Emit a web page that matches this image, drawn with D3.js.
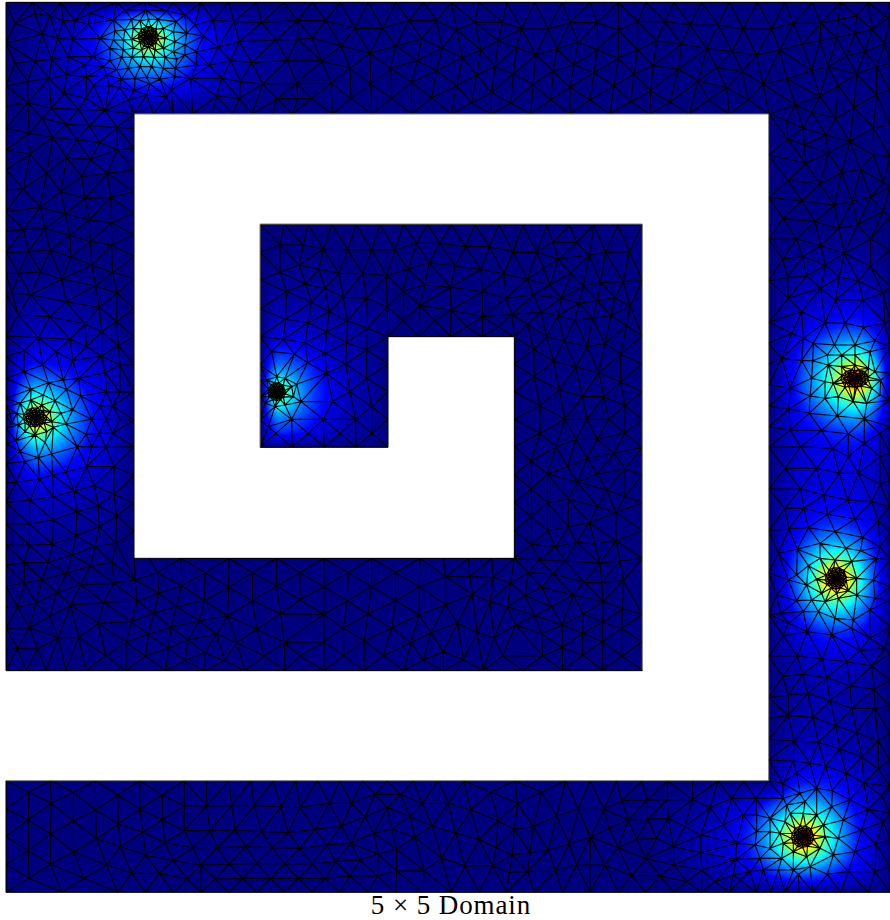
<!DOCTYPE html>
<html><head><meta charset="utf-8">
<style>html,body{margin:0;padding:0;background:#fff}svg{display:block}</style>
<script src="https://cdn.jsdelivr.net/npm/d3@7"></script>
</head><body>
<svg id="chart" width="890" height="920"></svg>
<script>
// Title of the figure
const titleText = "5 × 5 Domain";
// Mesh coordinates were digitised on a 2670 x 2760 sheet
const sheetSize = [2670, 2760];
// Domain outline (spiral) in sheet units
const domainOutline = [[18,7],[2670,7],[2670,2677],[18,2677],[18,2342],[2306,2342],[2306,342],[402,342],[402,1675],[1543,1675],[1543,1010],[1164,1010],[1164,1342],[780,1342],[780,672],[1927,672],[1927,2012],[18,2012]];
// Boundary stretches that read as grey in the picture (outline segment index)
const greyWalls = [4,5,6,13,14,15];
// Sources: x, y, amplitude, stretchX, stretchY
const sources = [[445,110,0.80,1,1],[105,1252,0.86,1.05,1],[830,1175,0.62,1,1],[2565,1135,1,1.1,1],[2508,1735,1,1,1],[2408,2510,1,1,1]];
// Refinement radius around each source: rx, ry
const refineRadii = [[32,32],[38,30],[28,28],[44,28],[34,34],[36,34]];
// Radial profile (distance on the sheet, value)
const profileDist = [0,15,30,45,66,90,120,165,225,300,420,510];
const profileVal = [1,.82,.68,.58,.46,.36,.27,.16,.09,.05,.015,0];
// Colour stops
const jetStops = [0,.125,.375,.625,.875,1];
const jetColors = ['#00007f','#0000ff','#00ffff','#ffff00','#ff0000','#7f0000'];
// Fine stencil of nodes around a source (percent of refine radius)
const refineStencil = [[0,0],[9,6],[-8,7],[3,-10],[-10,-6],[18,5],[-15,14],[6,-20],[-20,-14],[10,18],[-4,20],[-24,2],[24,-10],[30,-10],[28,18],[5,30],[-22,30],[-34,3],[-16,-32],[15,-36],[-38,-20],[36,-22],[40,10],[-40,18],[42,-28],[50,2],[42,30],[20,48],[-8,52],[-38,42],[-52,16],[-52,-16],[-34,-44],[0,-55],[32,-52],[66,-22],[70,12],[58,42],[34,66],[0,72],[-34,64],[-62,40],[-74,4],[-66,-32],[-40,-62],[-4,-76],[36,-72],[64,-50],[88,-12],[90,22],[72,58],[40,84],[0,94],[-42,86],[-78,54],[-94,14],[-88,-28],[-62,-72],[-20,-94],[24,-94],[70,-70]];

// Mesh nodes, sheet by sheet
const nodesTopLeft = [[18,7],[98,7],[182,7],[266,7],[350,7],[434,7],[518,7],[602,7],[686,7],[770,7],[853,7],
[18,130],[18,258],[18,320],[18,385],[18,450],[18,510],[18,570],[18,635],[18,695],[18,757],[18,820],[18,880],
[45,70],[105,41],[150,48],[190,62],[127,102],[173,115],[225,62],[270,40],[218,118],[265,72],[45,190],[105,183],[155,178],[205,170],[83,245],[147,235],[200,225],
[375,30],[438,30],[500,33],[555,45],[340,60],[395,58],[420,62],[445,58],[475,58],[528,65],[585,75],[640,60],
[345,93],[375,90],[400,85],[490,85],[520,95],[560,100],[610,108],[300,115],[340,120],[370,120],[395,118],[495,115],[525,125],[555,135],
[330,145],[370,150],[400,145],[425,150],[465,150],[490,145],[520,155],[555,165],[590,155],
[280,170],[330,182],[365,172],[395,172],[430,170],[462,172],[495,172],[530,178],[590,195],
[255,195],[310,200],[350,210],[385,205],[420,200],[455,200],[490,205],[525,205],
[260,230],[320,225],[365,238],[405,235],[440,232],[480,238],[525,230],[572,235],
[702,65],[785,68],[893,62],[828,120],[718,125],[655,142],[893,118],[755,188],[862,182],[692,182],[628,196],[722,245],[788,252],[665,235],[890,250],
[192,280],[281,256],[328,258],[236,328],[315,332],[258,295],[385,300],[440,285],[500,290],[403,272],[358,262],[450,252],[514,270],[650,288],[718,296],[832,296],[893,296],
[154,325],[84,308],[402,342],[460,342],[520,342],[578,342],[638,342],[698,342],[757,342],[817,342],[877,342],
[127,355],[198,373],[268,377],[351,382],[88,400],[158,412],[230,420],[300,428],[90,462],[200,472],[272,478],[352,450],[140,520],[245,530],[322,520],[70,566],[183,575],[255,596],[332,592],
[402,385],[402,445],[402,510],[402,575],[402,640],[402,705],[402,770],[402,835],
[121,622],[196,642],[268,660],[335,668],[71,689],[135,686],[210,706],[271,725],[335,735],[85,755],[150,750],[213,771],[275,795],[338,818],[56,820],[122,816],[186,838],[287,858],[352,880],[92,884],[37,880]];

const nodesLeftMid = [[18,108],[18,170],[18,235],[18,295],[18,320],[18,350],[18,385],[18,430],[18,490],[18,548],[18,608],[18,672],[18,735],
[402,25],[402,110],[402,195],[402,275],[402,360],[402,440],[402,525],[402,610],[402,695],
[55,45],[150,50],[198,5],[298,22],[350,65],[255,72],[305,95],[115,113],[210,118],[260,140],[355,137],[73,152],[168,155],[305,168],[128,195],[218,182],[360,195],[72,215],[315,218],[236,235],[190,240],[145,248],[93,268],[130,285],[165,302],[200,268],[242,288],[320,275],[360,277],[300,318],
[60,310],[92,300],[125,315],[150,335],[155,365],[140,395],[105,405],[75,395],[55,375],[50,340],
[30,340],[35,370],[48,422],[60,455],[135,427],[160,382],[183,340],[198,372],[218,330],[275,358],[318,358],[360,358],[338,318],[297,400],[338,400],[258,403],[275,440],[318,442],[232,440],[155,462],[115,473],[75,485],[198,517],[260,500],[158,525],[118,537],[48,547],[342,500],[283,557],[223,573],[160,590],[90,600],[342,583],[295,617],[230,635],[350,647],[160,660],[88,672],[298,680],[228,707],[158,733],[88,735],[285,740],[348,730]];

const nodesTopMid = [[37,7],[120,7],[204,7],[288,7],[370,7],[454,7],[536,7],[620,7],[704,7],[787,7],[870,7],
[78,62],[165,85],[248,85],[327,62],[410,62],[470,90],[525,67],[608,67],[665,87],[745,87],[810,68],
[37,115],[123,138],[210,160],[288,138],[365,117],[427,145],[543,150],[595,123],[650,143],[708,165],[770,147],[835,127],
[65,183],[150,205],[272,205],[352,182],[410,212],[488,173],[530,225],[585,200],[640,222],[700,253],[760,213],[822,195],
[93,250],[212,253],[335,247],[470,258],[575,278],[810,262],
[35,296],[153,295],[275,295],[395,293],[515,308],[632,310],[752,300],[870,300],
[97,342],[215,342],[335,342],[454,342],[573,342],[692,342],[811,342],
[668,675],[740,675],[810,675],[640,757],[710,757],[758,727],[830,727],[775,778],[868,765],[682,838],[730,805],[812,820],[750,855],[850,858],[700,885],[785,895]];

const nodesTopRight = [[85,7],[168,7],[252,7],[335,7],[418,7],[502,7],[585,7],[668,7],[752,7],[835,7],[900,7],
[22,68],[85,90],[143,65],[225,65],[300,75],[385,75],[460,87],[545,87],[610,70],[692,70],[745,60],[800,48],[885,48],
[22,150],[85,175],[143,150],[200,123],[275,133],[350,145],[427,155],[500,165],[570,150],[637,133],[690,122],[740,113],[795,100],[847,90],[885,130],
[12,218],[72,258],[132,223],[190,197],[265,208],[325,243],[380,203],[457,215],[410,263],[520,253],[590,237],[665,212],[715,200],[770,168],[825,155],[860,200],[800,222],[745,257],[690,290],[617,315],[182,272],[122,305],[240,307],[355,300],[475,300],[860,283],
[60,342],[180,342],[298,342],[418,342],[537,342],
[536,465],[536,592],[536,717],[536,842],
[590,362],[665,337],[737,355],[792,323],[850,383],[593,418],[640,385],[643,435],[708,405],[780,425],[715,458],[850,465],[648,490],[755,518],[812,508],[880,548],[595,542],[690,552],[635,603],[733,615],[787,603],[843,592],[880,633],[580,655],[675,665],[747,685],[803,675],[620,717],[692,737],[763,760],[842,717],[578,777],[638,770],[707,795],[842,800],[593,833],[650,828],[748,832],[805,842],[692,865],[880,880],[595,895],
[900,50],[900,130],[900,190],[900,270],[900,375],[900,470],[900,560],[900,650],[900,750],[900,860],
[12,675],[84,675],[157,675],[47,757],[118,755],[32,848],[100,845],[157,842],[75,893]];

const nodesInner = [[60,43],[132,43],[204,43],[276,43],[348,43],[420,43],[490,43],[562,43],[634,43],[705,43],[777,43],
[120,105],[190,105],[250,117],[323,120],[395,120],[465,120],[530,100],[600,100],[677,110],[748,110],[818,125],
[60,127],[60,210],[120,187],[178,165],[237,178],[297,190],[368,190],[440,197],[505,178],[567,158],[645,168],[723,178],[792,192],
[197,222],[255,235],[140,245],[310,262],[380,265],[490,243],[555,225],[632,232],[727,245],[798,265],
[60,297],[215,277],[137,328],[268,305],[322,333],[441,290],[540,287],[633,300],[728,320],[815,313],
[60,380],[205,338],[260,365],[383,355],[490,332],[585,332],[680,350],[775,350],
[444,380],[538,380],[632,380],[728,380],
[130,388],[195,398],[320,398],[380,420],[255,430],[95,425],[60,465],[163,432],[203,458],[317,462],[444,462],
[260,490],[380,505],[444,545],[170,523],[60,510],[330,545],[395,590],[444,628],[278,574],[183,575],[155,628],[250,628],[347,628],
[80,510],[110,500],[135,505],[155,530],[160,560],[135,585],[105,590],[75,580],[62,560],
[60,630],[85,650],[108,670],[205,670],[300,670],[395,670],[60,712],[157,712],[253,712],[348,712],[444,712]];

const nodesInnerRightArm = [[93,67],[207,40],[262,32],[360,48],[143,78],[195,90],[248,85],[303,77],[350,107],[52,103],
[397,137],[110,140],[163,153],[232,170],[285,160],[72,178],[332,193],[13,140],[131,214],[198,232],[267,248],[397,222],[13,222],[72,260],[332,277],[397,305],[148,300],[217,320],[282,320],[13,305],[90,347],[345,347],[13,388],[165,388],[231,388],[296,388],[397,388],[90,430],[345,430],[198,448],[262,448],[13,470],[139,470],[397,472],[313,490],[64,513],[231,505],[172,530],[13,555],[113,552],[262,552],[345,537],[397,555],[203,577],[64,597],[290,600],[13,638],[113,638],[175,627],[345,620],[397,638],[263,650],[318,668],[64,680],[13,722],[113,722],[175,710],[238,698],[397,722],[318,752],[64,763],[137,770],[200,757],[255,762],[13,805]];

const nodesLowerLeft = [[18,45],[73,38],[145,37],[217,15],[272,48],[337,38],[200,70],[127,90],[73,100],[170,128],[242,105],[342,100],[405,90],[108,160],[53,172],[212,165],[312,158],[412,153],[150,200],[88,233],[295,220],[395,215],
[18,108],[18,172],[18,235],[18,300],
[472,68],[543,25],[615,68],[687,25],[757,68],[830,25],[900,68],
[477,130],[545,108],[614,152],[686,112],[758,152],[830,108],[900,150],[462,190],[529,170],[598,213],[683,197],[770,238],[842,192],
[175,263],[236,262],[53,295],[113,297],[378,277],[445,253],[513,232],[565,270],[650,252],[710,278],[853,277],[505,295],[615,308],[318,318],[437,318],[555,332],[673,332],[793,318],[900,318],
[18,362],[78,362],[138,362],[198,362],[258,362],[378,362],[497,362],[616,362],[735,362],[855,362],
[18,692],[152,692],[286,692],[420,692],[553,692],[620,692],[687,692],[753,692],[820,692],[887,692],
[87,727],[220,727],[353,735],[487,735],[18,778],[153,760],[287,780],[420,778],[553,768],[620,768],[695,767],[762,767],[843,771],[900,772],
[85,810],[220,813],[355,822],[487,810],[553,842],[630,842],[705,840],[785,845],[865,848],
[18,860],[152,852],[290,867],[428,847],[495,878],[578,893],[652,893],[737,890],[817,893],[900,895],
[85,902],[220,905],[362,890],[437,915],[520,932],[603,945],[687,943],[770,940],[853,942],
[18,943],[152,943],[320,945],[395,970],[478,970],[562,987],[645,987],[728,985],[812,985],[895,985],
[87,985],[252,985],
[18,1027],[185,1027],[352,1027],[437,1027],[520,1027],[603,1027],[687,1027],[770,1027],[853,1027]];

const nodesLowerMid = [[72,25],[215,25],[360,25],[430,25],[505,25],[575,25],
[145,68],[287,68],[437,80],[510,80],[580,82],[72,110],[215,110],[358,110],[517,133],[142,152],[287,152],[437,165],[570,155],[622,170],[72,193],[204,192],[357,195],[473,220],[532,248],[130,235],[275,235],[393,248],[582,263],[647,225],[72,275],[193,272],[333,278],[430,305],[608,318],[132,317],[250,317],[370,330],[490,330],
[72,362],[192,362],[312,362],[430,362],[550,362],[668,362],[788,362],
[685,68],[760,72],[853,97],[632,98],[718,30],[795,33],[675,137],[725,112],[820,135],[755,170],[705,197],[850,192],[787,225],[848,250],[725,252],[787,293],[848,315],[728,318],
[52,692],[120,692],[187,692],[262,692],[340,692],[415,692],[492,692],[645,692],[797,692],[870,692],
[88,760],[155,760],[225,733],[302,733],[367,760],[445,760],[572,727],[725,727],[262,772],[330,800],[513,780],[653,760],[835,778],
[45,838],[125,828],[195,800],[397,828],[595,813],[770,798],[700,830],
[80,885],[152,880],[222,850],[275,838],[345,862],[467,850],[537,868],[643,838],[872,862],
[37,942],[107,935],[180,930],[235,912],[290,898],[425,925],[588,893],[637,915],[690,908],[745,900],[808,882],
[75,985],[150,978],[232,978],[290,963],[372,962],[495,948],[578,948],[628,968],[683,965],[767,963],[830,945],
[37,1027],[120,1027],[205,1027],[287,1027],[370,1027],[453,1027],[537,1027],[620,1027],[703,1027],[787,1027],[870,1027]];

const nodesRightMid = [[30,790],[90,783],[157,775],[35,848],[100,842],
[536,67],[536,130],[536,192],[536,255],[536,318],[536,380],[536,442],[536,567],[536,692],[536,818],
[635,35],[737,0],[820,0],[605,100],[705,68],[765,70],[820,82],[885,70],[640,115],[670,130],[733,135],[795,135],[855,122],[575,175],[635,182],[668,182],[712,165],[755,165],[795,165],[840,155],
[715,195],[755,200],[795,195],[835,205],[855,215],[872,240],[845,265],[800,262],[765,262],[730,250],[705,245],[665,235],
[600,265],[660,288],[705,295],[745,290],[790,305],[830,310],[870,285],[597,327],[658,340],[742,348],[823,357],[600,390],[695,392],[775,402],[870,400],[632,440],[728,445],[823,430],[870,470],[775,470],[585,505],[680,505],[748,520],[805,520],[870,552],[632,567],[702,585],[773,600],[845,605],[585,625],[642,625],[712,643],[795,657],[865,660],[597,687],[655,683],[735,695],[818,712],
[622,748],[690,730],[768,745],[870,740],[812,752],[565,760],[655,797],[690,775],[735,780],[785,785],[800,835],[775,872],[740,880],[695,880],[680,838],[620,825],[595,840],[560,885],[650,855],[860,775],[850,840],
[900,60],[900,140],[900,220],[900,300],[900,380],[900,460],[900,540],[900,620],[900,700],[900,780],[900,860]];

const nodesLowerRight = [[40,65],[98,87],[157,103],[38,127],[95,145],[157,187],[38,185],[95,228],[157,270],[38,270],
[620,62],[665,60],[705,65],[745,55],[800,45],[855,55],[572,100],[640,95],[685,95],[735,115],[790,120],[840,90],
[536,103],[536,228],[536,353],[536,415],[536,478],[536,540],[536,603],
[595,130],[652,155],[725,165],[785,145],[840,175],[885,205],[580,167],[622,228],[697,237],[770,245],[810,212],[845,258],[578,290],[638,283],[710,293],[780,318],[853,328],[595,345],[653,340],[720,362],[785,385],[855,385],[595,407],[670,412],[738,437],[800,458],[865,483],[612,483],[685,487],[750,507],[815,530],[865,567],[610,543],[660,550],[707,558],[768,580],[620,578],[680,625],[727,632],[822,608],[875,648],[578,610],[630,640],[580,655],
[600,700],[640,700],[680,705],[700,735],[705,770],[690,805],[650,830],[610,815],[580,790],[570,760],[585,725],
[498,655],[425,655],[460,705],[500,705],[540,715],[590,675],[645,665],[725,680],[780,660],[760,720],[745,775],[815,750],[835,688],[880,725],[858,793],[795,815],[730,825],[660,860],[610,870],[565,870],[520,870],[480,875],[500,755],[540,755],[540,805],[495,795],[400,735],[440,790],[438,838],[510,835],[575,835],[625,883],[712,883],[775,875],[855,875],[450,900],[430,885],
[418,937],[500,937],[543,937],[585,937],[627,937],[668,937],[752,937],[835,937],[900,937],
[80,603],[155,603],[232,603],[308,603],[385,603],[461,603],
[42,687],[95,662],[172,660],[232,660],[308,658],[360,683],[115,720],[173,718],[235,715],[285,740],[58,745],[140,778],[200,775],[0,772],[85,803],[250,800],[333,765],[333,818],[168,836],[252,855],[335,870],[45,855],[125,887],[210,887],[290,905],[375,905],[0,855],
[85,937],[168,937],[250,937],[335,937],
[900,60],[900,140],[900,220],[900,300],[900,380],[900,460],[900,540],[900,620],[900,700],[900,780],[900,860]];

// node list, sheet origin of that list
const nodeSheets = [[nodesTopLeft,0,0],[nodesLeftMid,0,900],[nodesTopMid,900,0],[nodesTopRight,1770,0],[nodesInner,720,630],[nodesInnerRightArm,1530,870],[nodesLowerLeft,0,1650],[nodesLowerMid,900,1650],[nodesRightMid,1770,900],[nodesLowerRight,1770,1740]];

const x = d3.scaleLinear().domain([0, sheetSize[0]]).range([0, 890]);
const y = d3.scaleLinear().domain([0, sheetSize[1]]).range([0, 920]);
const jet = d3.scaleLinear().domain(jetStops).range(jetColors).clamp(true);
const profile = d3.scaleLinear().domain(profileDist).range(profileVal).clamp(true);

const nodes = [];
nodeSheets.forEach(([list, ox, oy]) => list.forEach(([a, b]) => nodes.push([a + ox, b + oy])));
sources.forEach((s, i) => refineStencil.forEach(([a, b]) => nodes.push([s[0] + a / 100 * refineRadii[i][0], s[1] + b / 100 * refineRadii[i][1]])));

const svg = d3.select("#chart");
const outlinePath = "M" + domainOutline.map(p => [x(p[0]), y(p[1])].join(",")).join("L") + "Z";
svg.append("defs").append("clipPath").attr("id", "dom").append("path").attr("d", outlinePath);
const plot = svg.append("g").attr("clip-path", "url(#dom)");
plot.append("path").attr("d", outlinePath).attr("fill", jet(0));

// wall distance for the fall-off near the boundary
const segs = domainOutline.map((p, i) => [p, domainOutline[(i + 1) % domainOutline.length]]);
function wallDist(px, py) {
  let best = Infinity;
  for (const [a, b] of segs) {
    const qx = Math.max(Math.min(a[0], b[0]), Math.min(Math.max(a[0], b[0]), px));
    const qy = Math.max(Math.min(a[1], b[1]), Math.min(Math.max(a[1], b[1]), py));
    const d = Math.hypot(px - qx, py - qy);
    if (d < best) best = d;
  }
  return best;
}
const wallFall = d => 1 - Math.exp(-d / 48);
const sourceWall = sources.map(s => wallFall(wallDist(s[0], s[1])));

const step = 2; // screen px per field cell
const gw = Math.ceil(890 / step) + 1, gh = Math.ceil(920 / step) + 1;
const field = new Float64Array(gw * gh);
for (let j = 0; j < gh; j++) for (let i = 0; i < gw; i++) {
  const mx = x.invert(i * step), my = y.invert(j * step);
  const near = sources.some(s => Math.abs(s[0] - mx) < 520 && Math.abs(s[1] - my) < 520);
  if (!near) continue;
  const f = wallFall(wallDist(mx, my));
  let v = 0;
  sources.forEach((s, k) => {
    const r = Math.hypot((mx - s[0]) / s[3], (my - s[1]) / s[4]);
    v += s[2] * profile(r) * Math.min(1, f / sourceWall[k]);
  });
  field[j * gw + i] = v;
}
const levels = d3.range(0.01, 1.0, 0.01);
const contours = d3.contours().size([gw, gh]).smooth(true).thresholds(levels)(Array.from(field));
plot.append("g").attr("transform", `scale(${step})`)
  .selectAll("path").data(contours).join("path")
  .attr("d", d3.geoPath()).attr("fill", d => jet(d.value)).attr("stroke", d => jet(d.value)).attr("stroke-width", 0.3);

// Triangulate nodes; keep triangles inside the domain
const del = d3.Delaunay.from(nodes);
const t = del.triangles;
const seen = new Set();
let edgePath = "";
const addEdge = (a, b) => {
  const key = a < b ? a + "_" + b : b + "_" + a;
  if (seen.has(key)) return; seen.add(key);
  edgePath += "M" + x(nodes[a][0]).toFixed(2) + "," + y(nodes[a][1]).toFixed(2) + "L" + x(nodes[b][0]).toFixed(2) + "," + y(nodes[b][1]).toFixed(2);
};
for (let k = 0; k < t.length; k += 3) {
  const [a, b, c] = [t[k], t[k + 1], t[k + 2]];
  const cx = (nodes[a][0] + nodes[b][0] + nodes[c][0]) / 3, cy = (nodes[a][1] + nodes[b][1] + nodes[c][1]) / 3;
  if (!d3.polygonContains(domainOutline, [cx, cy])) continue;
  addEdge(a, b); addEdge(b, c); addEdge(c, a);
}
plot.append("path").attr("d", edgePath).attr("fill", "none").attr("stroke", "#000").attr("stroke-width", 1.1);
plot.append("g").selectAll("circle").data(nodes).join("circle")
  .attr("cx", d => x(d[0])).attr("cy", d => y(d[1])).attr("r", 1.1).attr("fill", "#000");
svg.append("g").selectAll("line").data(d3.range(segs.length)).join("line")
  .attr("x1", i => x(segs[i][0][0])).attr("y1", i => y(segs[i][0][1]))
  .attr("x2", i => x(segs[i][1][0])).attr("y2", i => y(segs[i][1][1]))
  .attr("stroke", i => greyWalls.includes(i) ? "#808080" : "#000").attr("stroke-width", 1);

svg.append("text").attr("x", 451).attr("y", 914).attr("text-anchor", "middle")
  .attr("font-family", "'Liberation Serif', serif").attr("font-size", 27).attr("letter-spacing", 0.9).attr("fill", "#000").text(titleText);
</script>
</body></html>
